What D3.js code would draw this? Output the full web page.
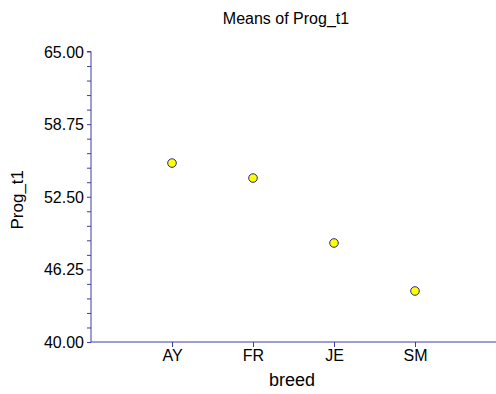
<!DOCTYPE html>
<html>
<head>
<meta charset="utf-8">
<script src="https://cdn.jsdelivr.net/npm/d3@7"></script>
<style>
  html, body { margin: 0; padding: 0; background: #fff; }
  svg { display: block; }
  text { font-family: "Liberation Sans", Arial, sans-serif; fill: #000; }
</style>
</head>
<body>
<svg id="chart" width="496" height="394"></svg>
<script>
// Mean of Prog_t1 by breed
const breeds = ["AY", "FR", "JE", "SM"];
const means = [55.40, 54.11, 48.52, 44.39];
const yTicks = [40.00, 46.25, 52.50, 58.75, 65.00];
const yMinorStep = 1.25;

const W = 496, H = 394;
const axisColor = "#3c3ca8";
const svg = d3.select("#chart");

const x = d3.scaleLinear().domain([0, breeds.length + 1]).range([91, 496]);
const y = d3.scaleLinear().domain([40, 65]).range([342, 51.5]);

// Title
svg.append("text")
  .attr("x", 286).attr("y", 24)
  .attr("text-anchor", "middle")
  .style("font-size", "16px")
  .text("Means of Prog_t1");

// Y axis with major labels and minor ticks
const minorVals = d3.range(40, 65 + 1e-9, yMinorStep);
const yAxis = d3.axisLeft(y).tickValues(minorVals).tickSize(4)
  .tickFormat(d => yTicks.some(t => Math.abs(t - d) < 1e-9) ? d.toFixed(2) : "");
const gy = svg.append("g").attr("transform", "translate(91,0)").call(yAxis);
gy.select(".domain").attr("stroke", axisColor).attr("d", `M-4,${y(65)}H0V${y(40)}`);
gy.selectAll(".tick line").attr("stroke", axisColor);
gy.selectAll(".tick text").style("font-size", "16px").attr("x", -7).attr("dy", "0.35em");

// X axis
const xAxis = d3.axisBottom(x).tickValues(d3.range(1, breeds.length + 1))
  .tickFormat(d => breeds[d - 1]).tickSize(5).tickSizeOuter(0);
const gx = svg.append("g").attr("transform", "translate(0,342)").call(xAxis);
gx.select(".domain").attr("stroke", axisColor).attr("d", `M${x(0)},0H${W}`);
gx.selectAll(".tick line").attr("stroke", axisColor);
gx.selectAll(".tick text").style("font-size", "16px").attr("y", 8);

// Axis titles
svg.append("text")
  .attr("x", 292).attr("y", 386)
  .attr("text-anchor", "middle")
  .style("font-size", "18px")
  .text("breed");

svg.append("text")
  .attr("transform", `translate(23,${y(52.5) + 3}) rotate(-90)`)
  .attr("text-anchor", "middle")
  .style("font-size", "17px")
  .text("Prog_t1");

// Mean markers
svg.append("g").selectAll("circle")
  .data(means)
  .join("circle")
  .attr("cx", (d, i) => x(i + 1))
  .attr("cy", d => y(d))
  .attr("r", 4.3)
  .attr("fill", "#ffff00")
  .attr("stroke", "#26268c")
  .attr("stroke-width", 1);
</script>
</body>
</html>
